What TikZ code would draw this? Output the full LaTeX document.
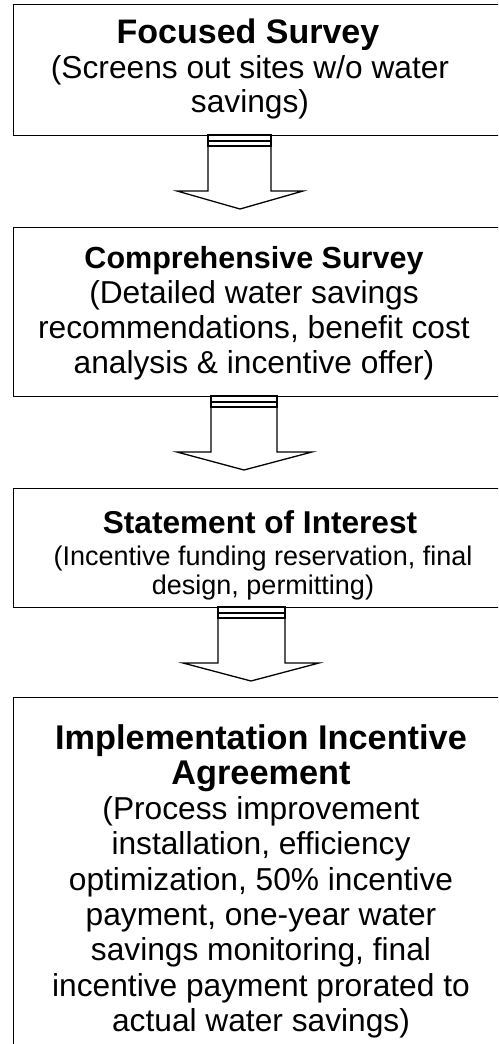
\documentclass[tikz,border=0pt]{standalone}
\usepackage{fontspec}
\setmainfont{Liberation Sans}
\newcommand\blockarr[7]{% #1 name, #2 top y, #3 xl, #4 xr, #5 head l, #6 head r, #7 tip x
  \coordinate (#1tl) at (#3,#2);
  \coordinate (#1tr) at (#4,#2);
  \coordinate (#1tip) at (#7,#2+74);
  \draw[arrline] (#3,#2+11) -- (#3,#2+56) -- (#5,#2+56) -- (#1tip) -- (#6,#2+56) -- (#4,#2+56) -- (#4,#2+11);
  \draw[arrline] (#1tl) rectangle (#4,#2+11);
  \draw[arrline] (#3,#2+6) -- (#4,#2+6);
  \draw[line width=2.6pt] (#1tl) -- (#1tr);
}
\begin{document}
\begin{tikzpicture}[x=1pt,y=-1pt,
  box/.style={draw=black,line width=1.4pt,anchor=north west,minimum width=520pt,inner sep=0pt},
  arrline/.style={draw=black,line width=1.3pt,line join=miter},
  ln/.style={inner sep=0pt,anchor=base,font=\fontsize{31.7}{36}\selectfont},
  lnsmall/.style={inner sep=0pt,anchor=base,font=\fontsize{27}{30}\selectfont},
  ttl/.style={inner sep=0pt,anchor=base,font=\bfseries\fontsize{34}{36}\selectfont}]
\useasboundingbox (0,0) rectangle (498,1044);
\clip (0,0) rectangle (498,1044);
\fill[white] (0,0) rectangle (498,1044);
% boxes
\node[box,minimum height=131pt] (b1) at (13,4) {};
\node[box,minimum height=169pt] (b2) at (13,227) {};
\node[box,minimum height=119pt] (b3) at (13,488) {};
\node[box,minimum height=400pt] (b4) at (13,697) {};
% arrows
\blockarr{a1}{135}{208}{271}{177}{303}{240}
\blockarr{a2}{396}{211}{277}{177}{312}{244}
\blockarr{a3}{607}{218}{285}{183}{319}{251}
% box 1 text
\node[ttl] (b1t) at (248,43) {Focused Survey};
\node[ln] (b1a) at (250,78) {(Screens out sites w/o water};
\node[ln] (b1b) at (250,112) {savings)};
% box 2 text
\node[ttl,font=\bfseries\fontsize{30.5}{36}\selectfont] (b2t) at (254,268) {Comprehensive Survey};
\node[ln] (b2a) at (254,303) {(Detailed water savings};
\node[ln] (b2b) at (254,338) {recommendations, benefit cost};
\node[ln] (b2c) at (254,373) {analysis \& incentive offer)};
% box 3 text
\node[ttl,font=\bfseries\fontsize{31.6}{36}\selectfont] (b3t) at (260,533) {Statement of Interest};
\node[lnsmall] (b3a) at (263,565) {(Incentive funding reservation, final};
\node[lnsmall] (b3b) at (263,594) {design, permitting)};
% box 4 text
\node[ttl,font=\bfseries\fontsize{34.3}{36}\selectfont] (b4t) at (261,749) {Implementation Incentive};
\node[ttl,font=\bfseries\fontsize{34.3}{36}\selectfont] (b4u) at (261,784.3) {Agreement};
\node[ln] (b4a) at (261,819.6) {(Process improvement};
\node[ln] (b4b) at (261,854.9) {installation, efficiency};
\node[ln] (b4c) at (261,890.2) {optimization, 50\% incentive};
\node[ln] (b4d) at (261,925.5) {payment, one-year water};
\node[ln] (b4e) at (261,960.8) {savings monitoring, final};
\node[ln] (b4f) at (261,996.1) {incentive payment prorated to};
\node[ln] (b4g) at (261,1031.4) {actual water savings)};
\end{tikzpicture}
\end{document}
